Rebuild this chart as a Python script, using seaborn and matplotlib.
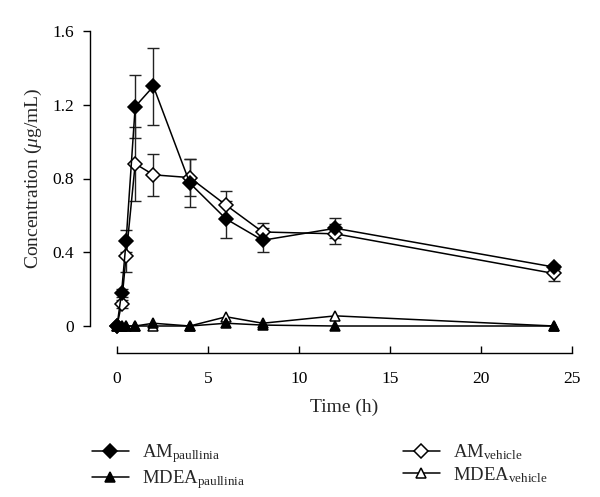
import matplotlib
matplotlib.use("Agg")
import matplotlib.pyplot as plt
import seaborn as sns
import pandas as pd

# data
time_h = [0, 0.25, 0.5, 1, 2, 4, 6, 8, 12, 24]

am_paullinia = [0, 0.18, 0.46, 1.19, 1.30, 0.775, 0.58, 0.465, 0.53, 0.32]
am_paullinia_err = [0, 0.02, 0.06, 0.17, 0.21, 0.13, 0.10, 0.065, 0.055, 0.01]

am_vehicle = [0, 0.12, 0.38, 0.88, 0.82, 0.805, 0.655, 0.51, 0.50, 0.285]
am_vehicle_err = [0, 0.02, 0.085, 0.20, 0.115, 0.10, 0.076, 0.046, 0.055, 0.04]

mdea_paullinia = [0, 0, 0, 0, 0.015, 0, 0.015, 0.005, 0, 0]
mdea_vehicle = [0, 0, 0, 0, 0, 0, 0.05, 0.015, 0.055, 0]

labels = [r"AM$_{\mathrm{paullinia}}$", r"MDEA$_{\mathrm{paullinia}}$",
          r"AM$_{\mathrm{vehicle}}$", r"MDEA$_{\mathrm{vehicle}}$"]

df = pd.DataFrame({
    "time": time_h * 4,
    "conc": am_paullinia + mdea_paullinia + am_vehicle + mdea_vehicle,
    "series": sum([[lab] * len(time_h) for lab in labels], []),
})

sns.set_theme(style="ticks")
plt.rcParams["font.family"] = "serif"
plt.rcParams["font.serif"] = ["Liberation Serif", "DejaVu Serif"]
plt.rcParams["mathtext.fontset"] = "custom"
plt.rcParams["mathtext.rm"] = "Liberation Serif"
plt.rcParams["mathtext.it"] = "Liberation Serif:italic"

fig = plt.figure(figsize=(6, 4.97), dpi=100)
ax = fig.add_axes([117 / 600, 1 - 326 / 497, 455 / 600, 295 / 497])

# error bars first so the markers sit on top
ax.errorbar(time_h, am_vehicle, yerr=am_vehicle_err, fmt="none", ecolor="#222222",
            elinewidth=1.0, capsize=4, capthick=1.0, zorder=2, clip_on=False)
ax.errorbar(time_h, am_paullinia, yerr=am_paullinia_err, fmt="none", ecolor="#222222",
            elinewidth=1.0, capsize=4, capthick=1.0, zorder=2, clip_on=False)

styles = {
    labels[2]: dict(marker="D", mfc="white", ms=7.5, z=3),
    labels[3]: dict(marker="^", mfc="white", ms=7.5, z=3),
    labels[1]: dict(marker="^", mfc="black", ms=7.5, z=4),
    labels[0]: dict(marker="D", mfc="black", ms=7.5, z=4),
}
handles = {}
for lab, st in styles.items():
    sub = df[df["series"] == lab]
    sns.lineplot(data=sub, x="time", y="conc", ax=ax, color="black", lw=1.1,
                 marker=st["marker"], markersize=st["ms"], markerfacecolor=st["mfc"],
                 markeredgecolor="black", markeredgewidth=1.1, zorder=st["z"],
                 clip_on=False, legend=False)
    handles[lab] = ax.lines[-1]

ax.set_xlim(0, 25)
ax.set_ylim(0, 1.6)
ax.set_xticks([0, 5, 10, 15, 20, 25])
ax.set_yticks([0, 0.4, 0.8, 1.2, 1.6])
ax.set_yticklabels(["0", "0.4", "0.8", "1.2", "1.6"])
sns.despine(ax=ax, offset=19.5)
for sp in ["left", "bottom"]:
    ax.spines[sp].set_color("black")
    ax.spines[sp].set_linewidth(1.0)
ax.tick_params(axis="x", direction="in", length=5, width=1.0, labelsize=12.5, colors="black", pad=13)
ax.tick_params(axis="y", direction="out", length=5, width=1.0, labelsize=12.5, colors="black", pad=6.5)

ax.set_xlabel("Time (h)", fontsize=14, labelpad=8)
ax.set_ylabel(r"Concentration ($\mu$g/mL)", fontsize=14, labelpad=6)

leg_kw = dict(frameon=False, fontsize=13.5, handlelength=2.0, handletextpad=0.7,
              labelspacing=0.15, loc="upper left", borderaxespad=0)
leg1 = fig.legend([handles[labels[0]], handles[labels[1]]], labels[:2],
                  bbox_to_anchor=(84 / 600, 1 - 435 / 497), **leg_kw)
leg2 = fig.legend([handles[labels[2]], handles[labels[3]]], labels[2:],
                  bbox_to_anchor=(395 / 600, 1 - 435 / 497), **leg_kw)

fig.savefig("out.png", dpi=100)
